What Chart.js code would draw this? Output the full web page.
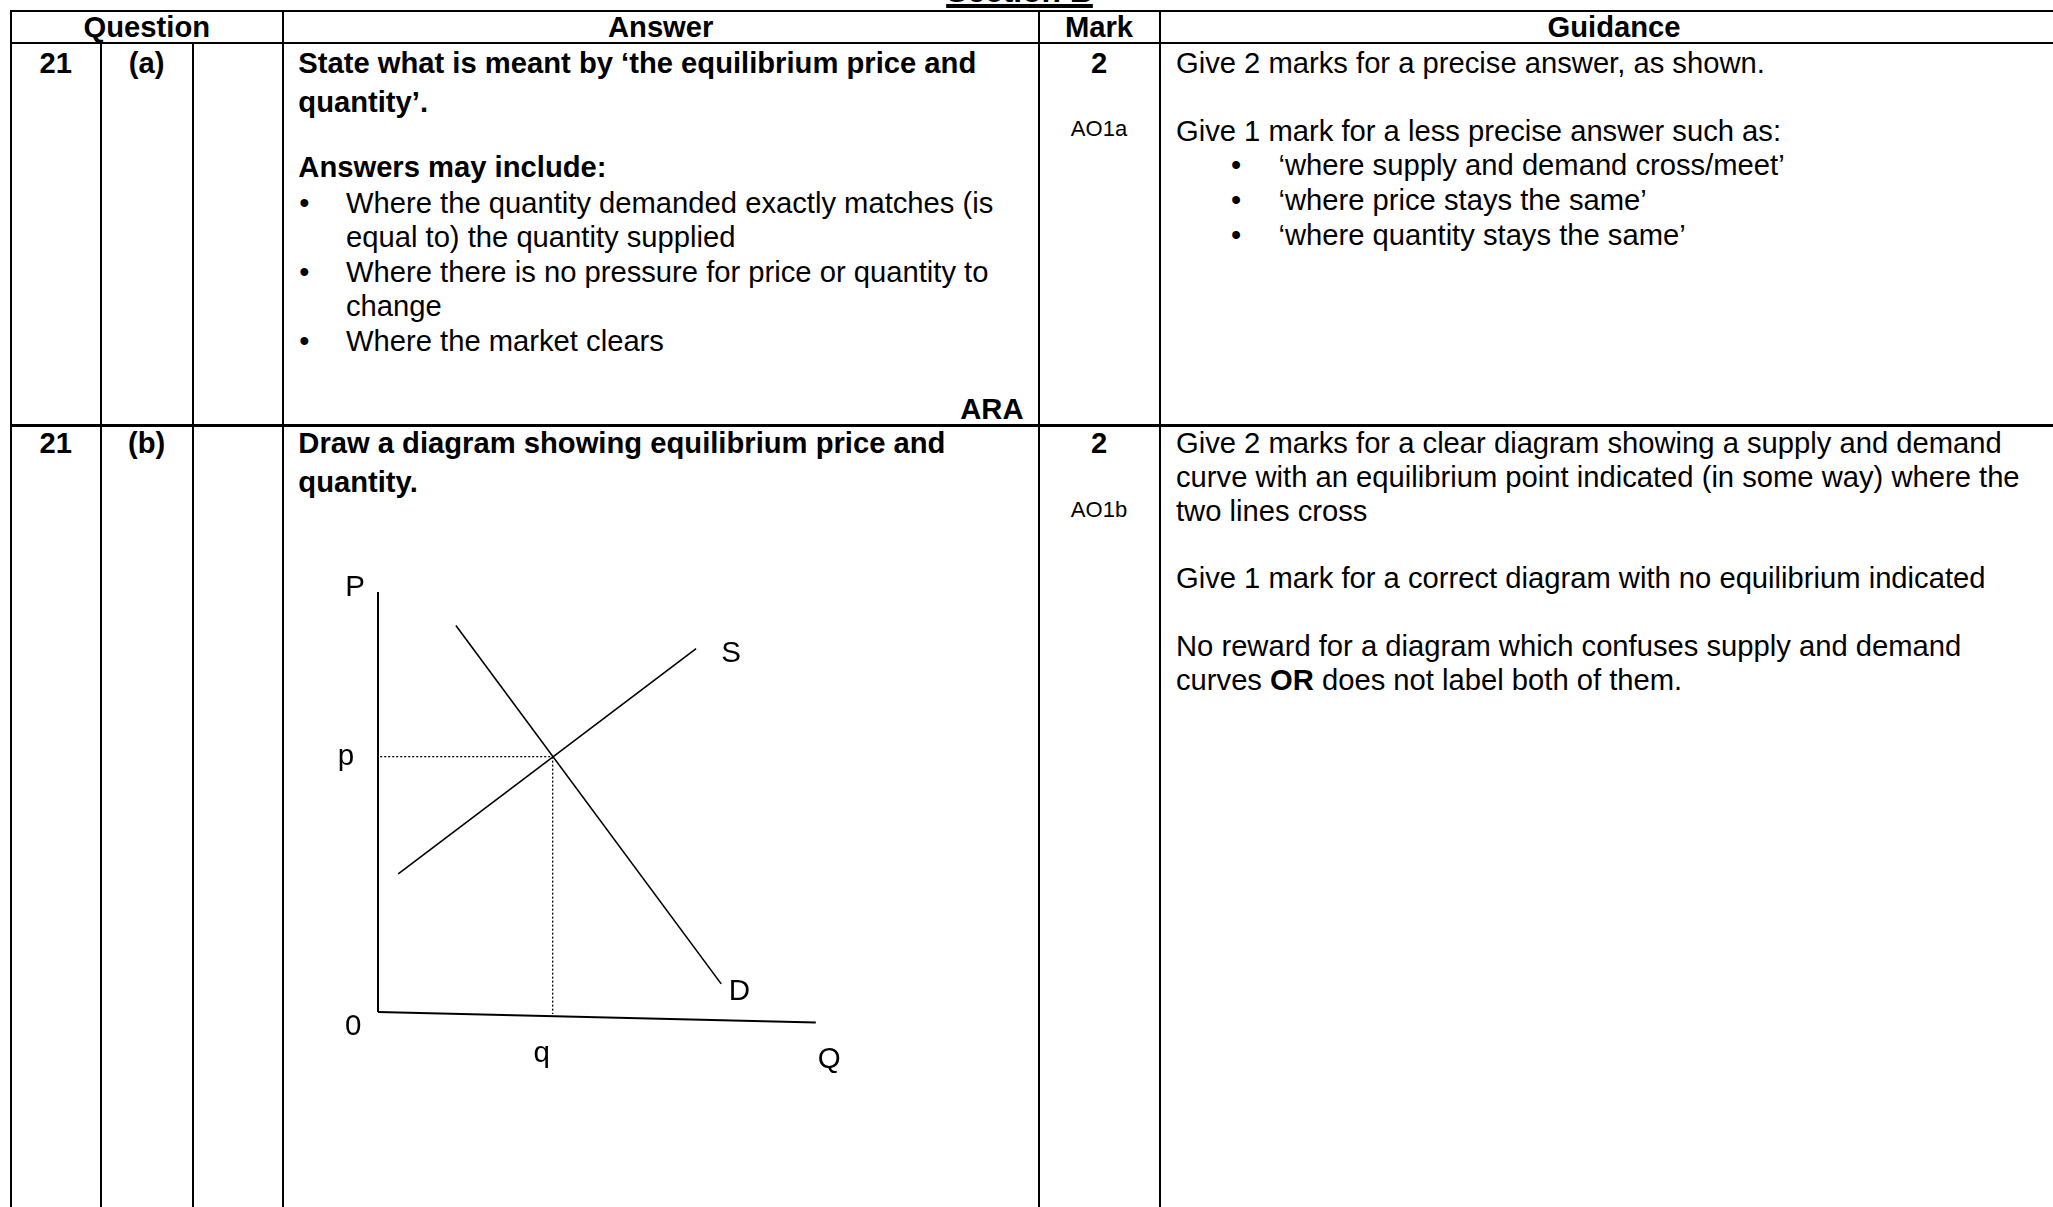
<!DOCTYPE html>
<html>
<head>
<meta charset="utf-8">
<script src="https://cdn.jsdelivr.net/npm/chart.js@4.4.1/dist/chart.umd.min.js"></script>
<style>
  html, body { margin: 0; padding: 0; background: #fff; }
  #page {
    position: relative;
    width: 2053px;
    height: 1207px;
    overflow: hidden;
    font-family: "Liberation Sans", Arial, sans-serif;
    color: #000;
  }
  .ln { position: absolute; background: #000; }
  .tx { position: absolute; line-height: 0; white-space: nowrap; font-size: 29.2px; }
  .b { font-weight: bold; }
  #sd { position: absolute; left: 290px; top: 550px; }
</style>
</head>
<body>
<div id="page">
  <canvas id="sd" width="594" height="546"></canvas>
</div>
<script>
// Supply and demand diagram values (price P against quantity Q)
const supplyQ = [0.46, 7.23];
const supplyP = [3.29, 8.65];
const demandQ = [1.77, 7.8];
const demandP = [9.2, 0.67];
const axisQ = [0, 9.95];
const axisQdrop = [0, -0.25];
const axisP = [0, 10];
const equilibriumQ = 3.97;
const equilibriumP = 6.08;
const curveLabels = ["S", "D"];
const axisLabels = ["P", "Q", "0"];
const equilibriumLabels = ["p", "q"];

const page = document.getElementById("page");

// table rules
function rule(x, y, w, h) {
  const d = document.createElement("div");
  d.className = "ln";
  d.style.left = x + "px";
  d.style.top = y + "px";
  d.style.width = w + "px";
  d.style.height = h + "px";
  page.appendChild(d);
}
rule(10, 9.7, 2100, 2);
rule(10, 42.3, 2100, 2);
rule(10, 424.3, 2100, 2.8);
rule(10, 9.7, 2, 1300);
rule(99.7, 42.3, 2, 1300);
rule(191.7, 42.3, 2, 1300);
rule(281.7, 9.7, 2, 1300);
rule(1037.9, 9.7, 2, 1300);
rule(1158.5, 9.7, 2, 1300);

// text placed by baseline
function text(str, x, base, opts) {
  opts = opts || {};
  const size = opts.size || 29.2;
  const d = document.createElement("div");
  d.className = "tx" + (opts.bold ? " b" : "");
  d.style.fontSize = size + "px";
  d.style.top = (base - 0.3465 * size) + "px";
  d.innerHTML = str;
  if (opts.align === "center") {
    d.style.left = x + "px";
    d.style.transform = "translateX(-50%)";
  } else if (opts.align === "right") {
    d.style.right = (2053 - x) + "px";
  } else {
    d.style.left = x + "px";
  }
  if (opts.style) d.style.cssText += opts.style;
  page.appendChild(d);
  return d;
}
function bullet(x, base) {
  text("&bull;", x, base, { align: "center" });
}

// section heading, cut off at the top edge as in the source page
text("Section B", 1019.5, 2.5, {
  bold: true, size: 31.8, align: "center",
  style: "text-decoration: underline; text-decoration-thickness: 3.5px; text-underline-offset: 1.5px;"
});

// header
text("Question", 146.8, 37.5, { bold: true, align: "center" });
text("Answer", 660.7, 37.5, { bold: true, align: "center" });
text("Mark", 1099, 37.5, { bold: true, align: "center" });
text("Guidance", 1614, 37.5, { bold: true, align: "center" });

// row (a)
text("21", 55.8, 72.7, { bold: true, align: "center" });
text("(a)", 146.7, 72.7, { bold: true, align: "center" });
text("State what is meant by \u2018the equilibrium price and", 298.3, 72.7, { bold: true });
text("quantity\u2019.", 298.3, 111.7, { bold: true });
text("Answers may include:", 298.3, 176.7, { bold: true });
bullet(304.3, 212.7);
text("Where the quantity demanded exactly matches (is", 346, 212.7);
text("equal to) the quantity supplied", 346, 246.7);
bullet(304.3, 281.7);
text("Where there is no pressure for price or quantity to", 346, 281.7);
text("change", 346, 316);
bullet(304.3, 350.7);
text("Where the market clears", 346, 350.7);
text("ARA", 1023.5, 419, { bold: true, align: "right" });

text("2", 1099, 72.7, { bold: true, align: "center" });
text("AO1a", 1099, 136.7, { size: 22, align: "center" });

text("Give 2 marks for a precise answer, as shown.", 1176, 72.7);
text("Give 1 mark for a less precise answer such as:", 1176, 141);
bullet(1236, 175);
text("\u2018where supply and demand cross/meet\u2019", 1278.5, 175);
bullet(1236, 210);
text("\u2018where price stays the same\u2019", 1278.5, 210);
bullet(1236, 245);
text("\u2018where quantity stays the same\u2019", 1278.5, 245);

// row (b)
text("21", 55.8, 453.3, { bold: true, align: "center" });
text("(b)", 146.7, 453.3, { bold: true, align: "center" });
text("Draw a diagram showing equilibrium price and", 298.3, 453.3, { bold: true });
text("quantity.", 298.3, 492.3, { bold: true });

text("2", 1099, 453.3, { bold: true, align: "center" });
text("AO1b", 1099, 517.3, { size: 22, align: "center" });

text("Give 2 marks for a clear diagram showing a supply and demand", 1176, 453.3);
text("curve with an equilibrium point indicated (in some way) where the", 1176, 487);
text("two lines cross", 1176, 520.8);
text("Give 1 mark for a correct diagram with no equilibrium indicated", 1176, 588.4);
text("No reward for a diagram which confuses supply and demand", 1176, 655.9);
text("curves <b>OR</b> does not label both of them.", 1176, 689.7);

// diagram
function pts(xs, ys) {
  return xs.map((x, i) => ({ x: x, y: ys[i] }));
}

const diagramLabels = {
  id: "diagramLabels",
  afterDatasetsDraw(chart) {
    const { ctx, scales } = chart;
    const sx = (v) => scales.x.getPixelForValue(v);
    const sy = (v) => scales.y.getPixelForValue(v);
    ctx.save();
    ctx.fillStyle = "#000";
    ctx.font = "29.5px 'Liberation Sans', Arial, sans-serif";
    ctx.textAlign = "center";
    ctx.textBaseline = "alphabetic";
    ctx.fillText(axisLabels[0], sx(axisP[0]) - 23, sy(axisP[1]) + 4);
    ctx.fillText(axisLabels[1], sx(axisQ[1]) + 13.3, sy(axisQdrop[1]) + 45.5);
    ctx.fillText(axisLabels[2], sx(0) - 24.7, sy(0) + 23);
    ctx.fillText(equilibriumLabels[0], sx(0) - 32, sy(equilibriumP) + 8.3);
    ctx.fillText(equilibriumLabels[1], sx(equilibriumQ) - 11, sy(0) + 49.8);
    ctx.fillText(curveLabels[0], sx(supplyQ[1]) + 35, sy(supplyP[1]) + 13.5);
    ctx.fillText(curveLabels[1], sx(demandQ[1]) + 18.3, sy(demandP[1]) + 16.5);
    ctx.restore();
  },
};

const lineStyle = {
  showLine: true,
  pointRadius: 0,
  pointHoverRadius: 0,
  borderColor: "#000",
  backgroundColor: "#000",
  fill: false,
  tension: 0,
};

new Chart(document.getElementById("sd").getContext("2d"), {
  type: "scatter",
  data: {
    datasets: [
      { ...lineStyle, label: "P axis", data: pts([0, 0], axisP), borderWidth: 2 },
      { ...lineStyle, label: "Q axis", data: pts(axisQ, axisQdrop), borderWidth: 2 },
      { ...lineStyle, label: "Supply", data: pts(supplyQ, supplyP), borderWidth: 1.6 },
      { ...lineStyle, label: "Demand", data: pts(demandQ, demandP), borderWidth: 1.6 },
      {
        ...lineStyle,
        label: "p",
        data: pts([0.05, equilibriumQ], [equilibriumP, equilibriumP]),
        borderWidth: 1.3,
        borderDash: [2, 2],
      },
      {
        ...lineStyle,
        label: "q",
        data: pts([equilibriumQ, equilibriumQ], [equilibriumP, -0.05]),
        borderWidth: 1.3,
        borderDash: [2, 2],
      },
    ],
  },
  options: {
    responsive: false,
    animation: false,
    devicePixelRatio: 1,
    layout: { padding: 0 },
    events: [],
    scales: {
      x: { type: "linear", min: -2, max: 11.5, display: false },
      y: { type: "linear", min: -2, max: 11, display: false },
    },
    plugins: {
      legend: { display: false },
      tooltip: { enabled: false },
    },
  },
  plugins: [diagramLabels],
});
</script>
</body>
</html>
